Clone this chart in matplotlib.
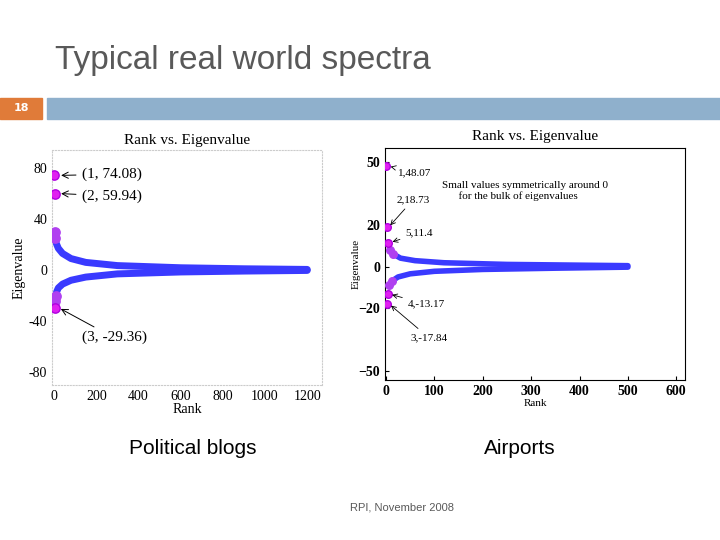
import matplotlib
matplotlib.use("Agg")
import matplotlib.pyplot as plt
from matplotlib.patches import Rectangle

# Political blogs spectrum (rank, eigenvalue)
blogs_top_rank = [1, 2, 3]
blogs_top_val = [74.08, 59.94, -29.36]
blogs_pos_rank = [4, 6, 10, 20, 40, 80, 150, 300, 600, 900, 1200]
blogs_pos_val = [30, 25, 21, 17, 13, 9, 6, 3.5, 1.8, 1.0, 0.5]
blogs_neg_rank = [5, 8, 12, 20, 40, 80, 150, 300, 600, 900, 1200]
blogs_neg_val = [-24, -20, -17, -14, -11, -8, -5.5, -3, -1.5, -0.8, -0.3]
blogs_labels = ["(1, 74.08)", "(2, 59.94)", "(3, -29.36)"]

# Airports spectrum
air_top_rank = [1, 2, 5, 4, 3]
air_top_val = [48.07, 18.73, 11.4, -13.17, -17.84]
air_pos_rank = [8, 15, 30, 60, 120, 250, 500]
air_pos_val = [8, 6, 4, 2.8, 1.8, 1.0, 0.4]
air_neg_rank = [7, 12, 25, 50, 100, 200, 350, 500]
air_neg_val = [-9, -7, -5, -3.5, -2.3, -1.4, -0.8, -0.3]
air_labels = ["1,48.07", "2,18.73", "5,11.4", "4,-13.17", "3,-17.84"]

W, H = 720, 540
fig = plt.figure(figsize=(7.2, 5.4), dpi=100)
SERIF = "Liberation Serif"


def px(x0, y0, x1, y1):
    return [x0 / W, 1 - y1 / H, (x1 - x0) / W, (y1 - y0) / H]


fig.text(55 / W, 1 - 60 / H, "Typical real world spectra", fontsize=24, color="#595959",
         va="center", family="Liberation Sans")
fig.patches.append(Rectangle((0, 1 - 119 / H), 42 / W, 21 / H, transform=fig.transFigure,
                             color="#e07b39"))
fig.patches.append(Rectangle((47 / W, 1 - 119 / H), 673 / W, 21 / H, transform=fig.transFigure,
                             color="#8fb0cc"))
fig.text(21 / W, 1 - 108 / H, "18", fontsize=8, color="white", ha="center", va="center",
         weight="bold")


def spectrum(ax, top_r, top_v, pr, pv, nr, nv, s, lw):
    ax.plot(pr, pv, color="#3a3aff", lw=lw, solid_capstyle="round", zorder=2)
    ax.plot(nr, nv, color="#3a3aff", lw=lw, solid_capstyle="round", zorder=2)
    ax.scatter(pr[:2] + nr[:2], pv[:2] + nv[:2], s=s, color="#b040f0", zorder=3)
    ax.scatter(top_r, top_v, s=s, color="#e020f0", edgecolor="#b000e0", zorder=3)


# left chart
ax1 = fig.add_axes(px(52, 150, 322, 385))
spectrum(ax1, blogs_top_rank, blogs_top_val, blogs_pos_rank, blogs_pos_val,
         blogs_neg_rank, blogs_neg_val, 45, 5)
ax1.set_xlim(-10, 1270)
ax1.set_ylim(-90, 94)
ax1.set_xticks([0, 200, 400, 600, 800, 1000, 1200])
ax1.set_yticks([80, 40, 0, -40, -80])
ax1.set_yticklabels(["80", "40", "0", "-40", "-80"])
for s in ax1.spines.values():
    s.set_color("#cccccc")
    s.set_linestyle(":")
ax1.tick_params(length=0, labelsize=10)
for t in ax1.get_xticklabels() + ax1.get_yticklabels():
    t.set_family(SERIF)
ax1.set_title("Rank vs. Eigenvalue", family=SERIF, fontsize=11, pad=4)
ax1.set_xlabel("Rank", family=SERIF, fontsize=10, labelpad=0)
ax1.set_ylabel("Eigenvalue", family=SERIF, fontsize=10, labelpad=2)
for (r, v, lab), ty in zip(zip(blogs_top_rank, blogs_top_val, blogs_labels), [75, 58, -53]):
    ax1.annotate(lab, (20, v), (130, ty), family=SERIF, fontsize=11, va="center",
                 arrowprops=dict(arrowstyle="->", lw=0.7))

# right chart
ax2 = fig.add_axes(px(385, 148, 685, 380))
spectrum(ax2, air_top_rank, air_top_val, air_pos_rank, air_pos_val,
         air_neg_rank, air_neg_val, 30, 4)
ax2.set_xlim(-2, 618)
ax2.set_ylim(-54.3, 56.7)
ax2.set_xticks([0, 100, 200, 300, 400, 500, 600])
ax2.set_yticks([50, 20, 0, -20, -50])
ax2.tick_params(labelsize=10, length=3, direction="in")
for t in ax2.get_xticklabels() + ax2.get_yticklabels():
    t.set_family(SERIF)
    t.set_fontweight("bold")
ax2.set_title("Rank vs. Eigenvalue", family=SERIF, fontsize=11, pad=6)
ax2.set_xlabel("Rank", family=SERIF, fontsize=8, labelpad=1)
ax2.set_ylabel("Eigenvalue", family=SERIF, fontsize=8, labelpad=-2)
offs = [(25, 45), (22, 32), (40, 16), (45, -18), (50, -34)]
for r, v, lab, o in zip(air_top_rank, air_top_val, air_labels, offs):
    ax2.annotate(lab, (r + 3, v), o, family=SERIF, fontsize=8, va="center",
                 arrowprops=dict(arrowstyle="->", lw=0.6))
ax2.text(115, 36, "Small values symmetrically around 0\n      for the bulk of eigenvalues",
         family=SERIF, fontsize=8, va="center")

fig.text(193 / W, 1 - 448 / H, "Political blogs", fontsize=15, ha="center", va="center",
         family="Liberation Sans")
fig.text(520 / W, 1 - 448 / H, "Airports", fontsize=15, ha="center", va="center",
         family="Liberation Sans")
fig.text(402 / W, 1 - 507 / H, "RPI, November 2008", fontsize=8, ha="center", va="center",
         color="#595959", family="Liberation Sans")

fig.savefig("out.png", dpi=100)
